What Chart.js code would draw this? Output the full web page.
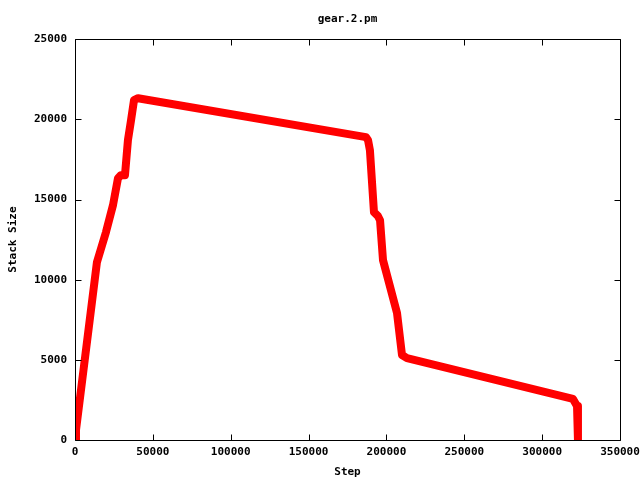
<!DOCTYPE html>
<html>
<head>
<meta charset="utf-8">
<script src="https://cdn.jsdelivr.net/npm/chart.js@4/dist/chart.umd.min.js"></script>
<style>
  html, body { margin: 0; padding: 0; background: #fff; }
  #wrap { width: 640px; height: 480px; }
</style>
</head>
<body>
<div id="wrap"><canvas id="myChart" width="640" height="480"></canvas></div>
<script>
// values
const steps = [0, 640, 14100, 19900, 24400, 27600, 29500, 32100, 34000, 36000, 37900, 40500,
  186900, 188200, 189400, 192000, 194600, 195900, 197800, 206800, 210000, 213200,
  319800, 322400, 323000];
const stackSizes = [0, 620, 11100, 12970, 14650, 16330, 16520, 16520, 18700, 19950, 21200, 21320,
  18890, 18700, 18080, 14210, 13960, 13710, 11220, 7920, 5300, 5110,
  2560, 2120, 0];

const xMax = 350000, xStep = 50000;
const yMax = 25000, yStep = 5000;

const font = { family: 'DejaVu Sans Mono', size: 11, weight: 'bold' };

// gnuplot style frame with ticks pointing inside on all four sides
const frame = {
  id: 'frame',
  afterDatasetsDraw(chart) {
    const ctx = chart.ctx;
    const a = chart.chartArea;
    const x = chart.scales.x, y = chart.scales.y;
    const l = Math.round(a.left) + 0.5, r = Math.round(a.right) + 0.5;
    const t = Math.round(a.top) + 0.5, b = Math.round(a.bottom) + 0.5;
    ctx.save();
    ctx.strokeStyle = '#000';
    ctx.lineWidth = 1;
    ctx.beginPath();
    ctx.rect(l, t, r - l, b - t);
    x.ticks.forEach(tk => {
      const px = Math.round(x.getPixelForValue(tk.value)) + 0.5;
      ctx.moveTo(px, b); ctx.lineTo(px, b - 6);
      ctx.moveTo(px, t); ctx.lineTo(px, t + 6);
    });
    y.ticks.forEach(tk => {
      const py = Math.round(y.getPixelForValue(tk.value)) + 0.5;
      ctx.moveTo(l, py); ctx.lineTo(l + 6, py);
      ctx.moveTo(r, py); ctx.lineTo(r - 6, py);
    });
    ctx.stroke();
    ctx.restore();
  }
};

const ctx = document.getElementById('myChart').getContext('2d');
const chart = new Chart(ctx, {
  type: 'line',
  data: {
    datasets: [{
      data: steps.map((s, i) => ({ x: s, y: stackSizes[i] })),
      borderColor: '#ff0000',
      borderWidth: 8,
      borderJoinStyle: 'round',
      pointRadius: 0,
      tension: 0
    }]
  },
  options: {
    responsive: false,
    animation: false,
    layout: { padding: { right: 20 } },
    plugins: {
      legend: { display: false },
      tooltip: { enabled: false },
      title: {
        display: true,
        text: 'gear.2.pm',
        fullSize: false,
        color: '#000',
        font: font,
        padding: { top: 13, bottom: 13 }
      }
    },
    scales: {
      x: {
        type: 'linear',
        min: 0, max: xMax,
        // the last label may run off the canvas, like the original
        afterFit(s) { s.height = 40; s.paddingRight = 0; s.paddingLeft = 0; },
        grid: { display: false, drawTicks: false },
        border: { display: false },
        ticks: { stepSize: xStep, color: '#000', font: font, padding: 6, maxRotation: 0,
          callback: v => String(v) },
        title: { display: true, text: 'Step', color: '#000', font: font, padding: { top: 0, bottom: 1 } }
      },
      y: {
        min: 0, max: yMax,
        afterFit(s) { s.width = 75; },
        grid: { display: false, drawTicks: false },
        border: { display: false },
        ticks: { stepSize: yStep, color: '#000', font: font, padding: 8,
          callback: v => String(v) },
        title: { display: true, text: 'Stack Size', color: '#000', font: font, padding: { top: 7, bottom: 0 } }
      }
    }
  },
  plugins: [frame]
});
</script>
</body>
</html>
